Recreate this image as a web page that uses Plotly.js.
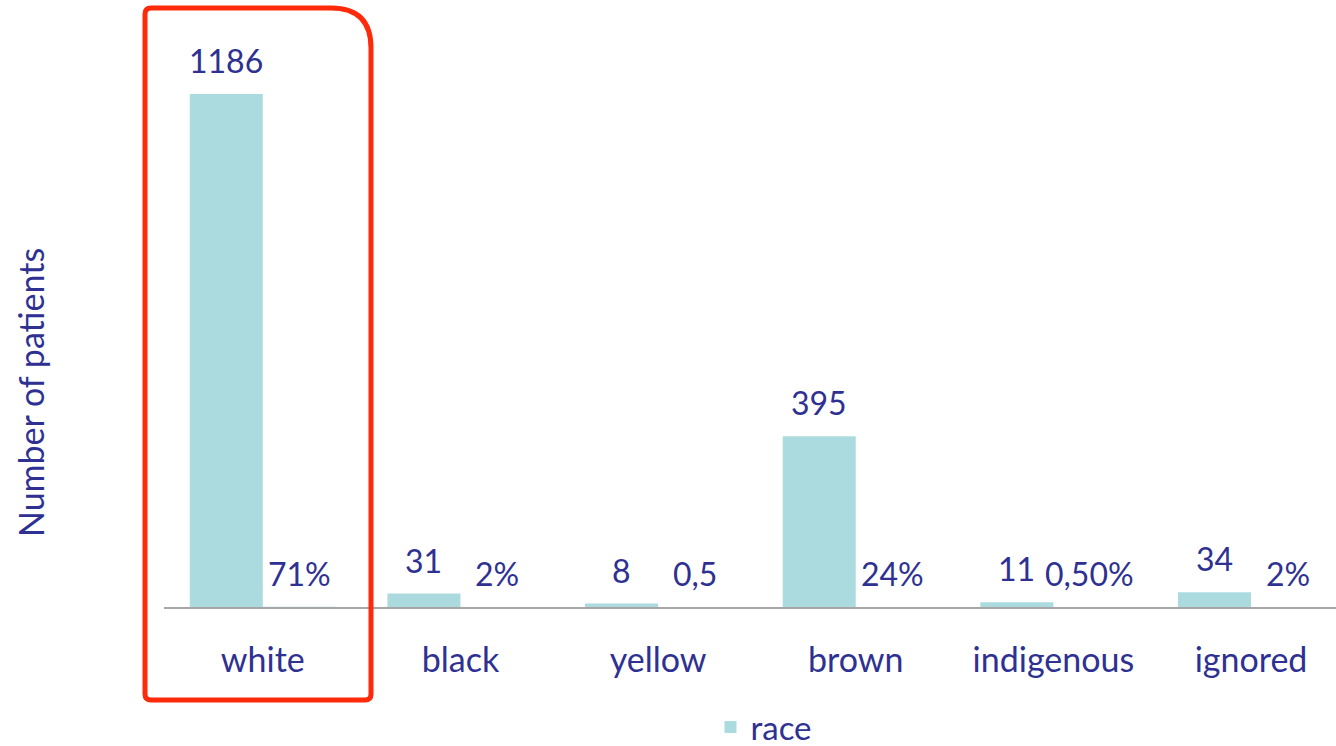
<!DOCTYPE html>
<html>
<head>
<meta charset="utf-8">
<script src="https://cdn.plot.ly/plotly-3.0.1.min.js"></script>
<style>
html,body{margin:0;padding:0;background:#fff;}
#chart{width:1336px;height:746px;}
</style>
</head>
<body>
<div id="chart"></div>
<script>
const categories = ['white', 'black', 'yellow', 'brown', 'indigenous', 'ignored'];
const counts = [1186, 31, 8, 395, 11, 34];
const shares = [0.71, 0.02, 0.005, 0.24, 0.005, 0.02];
const shareLabels = ['71%', '2%', '0,5', '24%', '0,50%', '2%'];
const seriesName = 'race';
const yTitle = 'Number of patients';

const TEXT = '#2E3192';
const BAR = '#ACDBDF';
const FONT = 'Lato, "Open Sans", sans-serif';
const FS_WORD = 34;
const FS_NUM = 32;

// plot area in pixels
const L = 164, R = 0, T = 40, B = 139, W = 1336, H = 746;
const pw = W - L - R, ph = H - T - B;
const px = v => (v - L) / pw;
const py = v => (H - B - v) / ph;

const traces = [
  {type: 'bar', name: seriesName, x: categories, y: counts,
   marker: {color: BAR}, hoverinfo: 'x+y'},
  {type: 'bar', name: 'share', x: categories, y: shares,
   marker: {color: BAR}, showlegend: false, hoverinfo: 'skip'}
];

const annotations = [];
categories.forEach((c, i) => {
  annotations.push({x: c, y: counts[i], xref: 'x', yref: 'y', text: String(counts[i]),
    showarrow: false, xshift: -36.5, yshift: 12, yanchor: 'bottom',
    font: {family: FONT, size: FS_NUM, color: TEXT}});
  annotations.push({x: c, y: shares[i], xref: 'x', yref: 'y', text: shareLabels[i],
    showarrow: false, xshift: 36.5, yshift: 12, yanchor: 'bottom',
    font: {family: FONT, size: FS_NUM, color: TEXT}});
});
annotations.push({xref: 'paper', yref: 'paper', x: px(30), y: py(393), text: yTitle,
  textangle: -90, showarrow: false, xanchor: 'center', yanchor: 'middle',
  font: {family: FONT, size: FS_WORD, color: TEXT}});

// red rounded frame
const xl = px(145), xr = px(371), yt = py(8), yb = py(700);
const rTRx = 40 / pw, rTRy = 40 / ph, rs = 6 / pw, rsy = 6 / ph;
const path = `M${xl},${yb + rsy} L${xl},${yt - rsy} Q${xl},${yt} ${xl + rs},${yt} ` +
  `L${xr - rTRx},${yt} Q${xr},${yt} ${xr},${yt - rTRy} ` +
  `L${xr},${yb + rsy} Q${xr},${yb} ${xr - rs},${yb} L${xl + rs},${yb} Q${xl},${yb} ${xl},${yb + rsy} Z`;

const layout = {
  width: W, height: H,
  margin: {l: L, r: R, t: T, b: B, pad: 0, autoexpand: false},
  paper_bgcolor: '#fff', plot_bgcolor: '#fff',
  barmode: 'group', bargap: 0.261, bargroupgap: 0,
  font: {family: FONT, size: FS_WORD, color: TEXT},
  xaxis: {type: 'category', range: [-0.5, 5.43], showline: true, linecolor: '#A6A6A6', linewidth: 2,
    ticks: '', showgrid: false, zeroline: false, ticklabelstandoff: 22,
    tickfont: {family: FONT, size: FS_WORD, color: TEXT}},
  yaxis: {range: [0, 1311], showticklabels: false, showgrid: false, zeroline: false, showline: false, ticks: ''},
  showlegend: true,
  legend: {orientation: 'h', x: px(764), xanchor: 'center', y: py(727), yanchor: 'middle',
    font: {family: FONT, size: 33, color: TEXT}, bgcolor: 'rgba(0,0,0,0)'},
  annotations: annotations,
  shapes: [{type: 'path', xref: 'paper', yref: 'paper', path: path,
    line: {color: '#FF2A0A', width: 5}, fillcolor: 'rgba(0,0,0,0)', layer: 'above'}]
};

Plotly.newPlot('chart', traces, layout, {displayModeBar: false, staticPlot: true});
</script>
</body>
</html>
